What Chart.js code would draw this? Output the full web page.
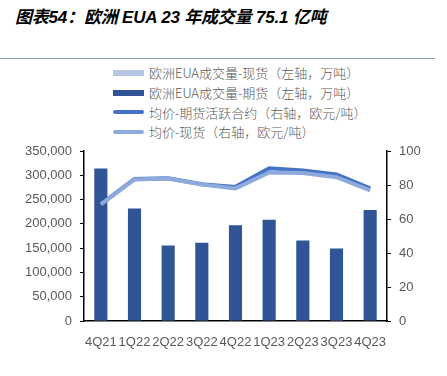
<!DOCTYPE html>
<html lang="zh">
<head>
<meta charset="UTF-8">
<title>欧洲 EUA 成交量</title>
<script src="https://cdn.jsdelivr.net/npm/chart.js"></script>
<style>
    body {
        margin: 0;
        background: #fff;
        font-family: "Liberation Sans", "Noto Sans CJK SC", sans-serif;
    }
    #wrap {
        position: relative;
        width: 447px;
        height: 376px;
        overflow: hidden;
    }
    #title {
        position: absolute;
        left: 15px;
        top: 3px;
        font-size: 17px;
        font-weight: bold;
        font-style: italic;
        color: #000;
        white-space: nowrap;
        letter-spacing: -0.2px;
    }
    #rule {
        position: absolute;
        left: 0;
        top: 58px;
        width: 435px;
        height: 1px;
        background: #8ea4b4;
    }
    #legend {
        position: absolute;
        left: 113px;
        top: 63px;
        font-size: 13px;
        color: #595959;
        font-family: "Noto Sans CJK SC", sans-serif;
        font-weight: 300;
    }
    #legend .row {
        height: 19.7px;
        display: flex;
        align-items: center;
        white-space: nowrap;
    }
    #legend .mark {
        width: 31px;
        margin-right: 5px;
    }
    canvas { position: absolute; left: 0; top: 0; }
</style>
</head>
<body>
<div id="wrap">
    <div id="title">图表54：欧洲 EUA 23 年成交量 75.1 亿吨</div>
    <div id="rule"></div>
    <div id="legend"></div>
    <canvas id="c" width="447" height="376"></canvas>
</div>

<script>
    const quarters = ['4Q21', '1Q22', '2Q22', '3Q22', '4Q22', '1Q23', '2Q23', '3Q23', '4Q23'];
    // 万吨
    const spotVolume = [1200, 1000, 900, 900, 1000, 1100, 900, 800, 1000];
    const futuresVolume = [313000, 230500, 154700, 160000, 196000, 207600, 165000, 148600, 227500];
    // 欧元/吨
    const futuresPrice = [68.8, 83.5, 84.0, 80.5, 78.9, 89.8, 88.6, 86.2, 78.1];
    const spotPrice = [68.6, 83.3, 83.8, 80.3, 78.0, 87.4, 87.0, 84.6, 76.8];

    const leftTicks = [0, 50000, 100000, 150000, 200000, 250000, 300000, 350000];
    const rightTicks = [0, 20, 40, 60, 80, 100];

    const datasets = [
        {
            type: 'bar', label: '欧洲EUA成交量-现货（左轴，万吨）',
            data: spotVolume, backgroundColor: '#b4c7e7', yAxisID: 'y',
            stack: 'vol', barPercentage: 0.39, categoryPercentage: 1.0, order: 2
        },
        {
            type: 'bar', label: '欧洲EUA成交量-期货（左轴，万吨）',
            data: futuresVolume, backgroundColor: '#2f5597', yAxisID: 'y',
            stack: 'vol', barPercentage: 0.39, categoryPercentage: 1.0, order: 2
        },
        {
            type: 'line', label: '均价-期货活跃合约（右轴，欧元/吨）',
            data: futuresPrice, borderColor: '#4472c4', borderWidth: 4,
            pointRadius: 0, tension: 0, yAxisID: 'y1', order: 1
        },
        {
            type: 'line', label: '均价-现货（右轴，欧元/吨）',
            data: spotPrice, borderColor: '#8eaadc', borderWidth: 4,
            pointRadius: 0, tension: 0, yAxisID: 'y1', order: 0
        }
    ];

    // legend built from the datasets
    const legend = document.getElementById('legend');
    datasets.forEach(ds => {
        const row = document.createElement('div');
        row.className = 'row';
        const mark = document.createElement('div');
        mark.className = 'mark';
        if (ds.type === 'bar') {
            mark.style.height = '6px';
            mark.style.background = ds.backgroundColor;
        } else {
            mark.style.height = '4px';
            mark.style.borderRadius = '2px';
            mark.style.background = ds.borderColor;
        }
        const txt = document.createElement('span');
        txt.textContent = ds.label;
        row.appendChild(mark);
        row.appendChild(txt);
        legend.appendChild(row);
    });

    const tickFont = { family: '"Liberation Sans", Arial, sans-serif', size: 13 };

    new Chart(document.getElementById('c'), {
        data: { labels: quarters, datasets: datasets },
        options: {
            responsive: false,
            animation: false,
            layout: { padding: { top: 151, left: 0, right: 0, bottom: 0 } },
            plugins: { legend: { display: false }, tooltip: { enabled: false } },
            scales: {
                x: {
                    stacked: true,
                    grid: { display: false },
                    border: { display: true, color: '#000', width: 1.5 },
                    ticks: { color: '#595959', font: tickFont, padding: 6, maxRotation: 0, autoSkip: false },
                    afterFit: s => { s.height = 55; }
                },
                y: {
                    position: 'left',
                    stacked: true,
                    min: 0, max: 350000,
                    afterBuildTicks: s => { s.ticks = leftTicks.map(v => ({ value: v })); },
                    grid: { drawOnChartArea: false, tickLength: 4, color: '#000' },
                    border: { color: '#000', width: 1.5 },
                    ticks: {
                        color: '#595959', font: tickFont, padding: 8,
                        callback: v => v.toLocaleString('en-US')
                    },
                    afterFit: s => { s.width = 84; }
                },
                y1: {
                    position: 'right',
                    min: 0, max: 100,
                    afterBuildTicks: s => { s.ticks = rightTicks.map(v => ({ value: v })); },
                    grid: { drawOnChartArea: false, tickLength: 4, color: '#000' },
                    border: { color: '#000', width: 1.5 },
                    ticks: { color: '#595959', font: tickFont, padding: 8 },
                    afterFit: s => { s.width = 60; }
                }
            }
        }
    });
</script>
</body>
</html>
